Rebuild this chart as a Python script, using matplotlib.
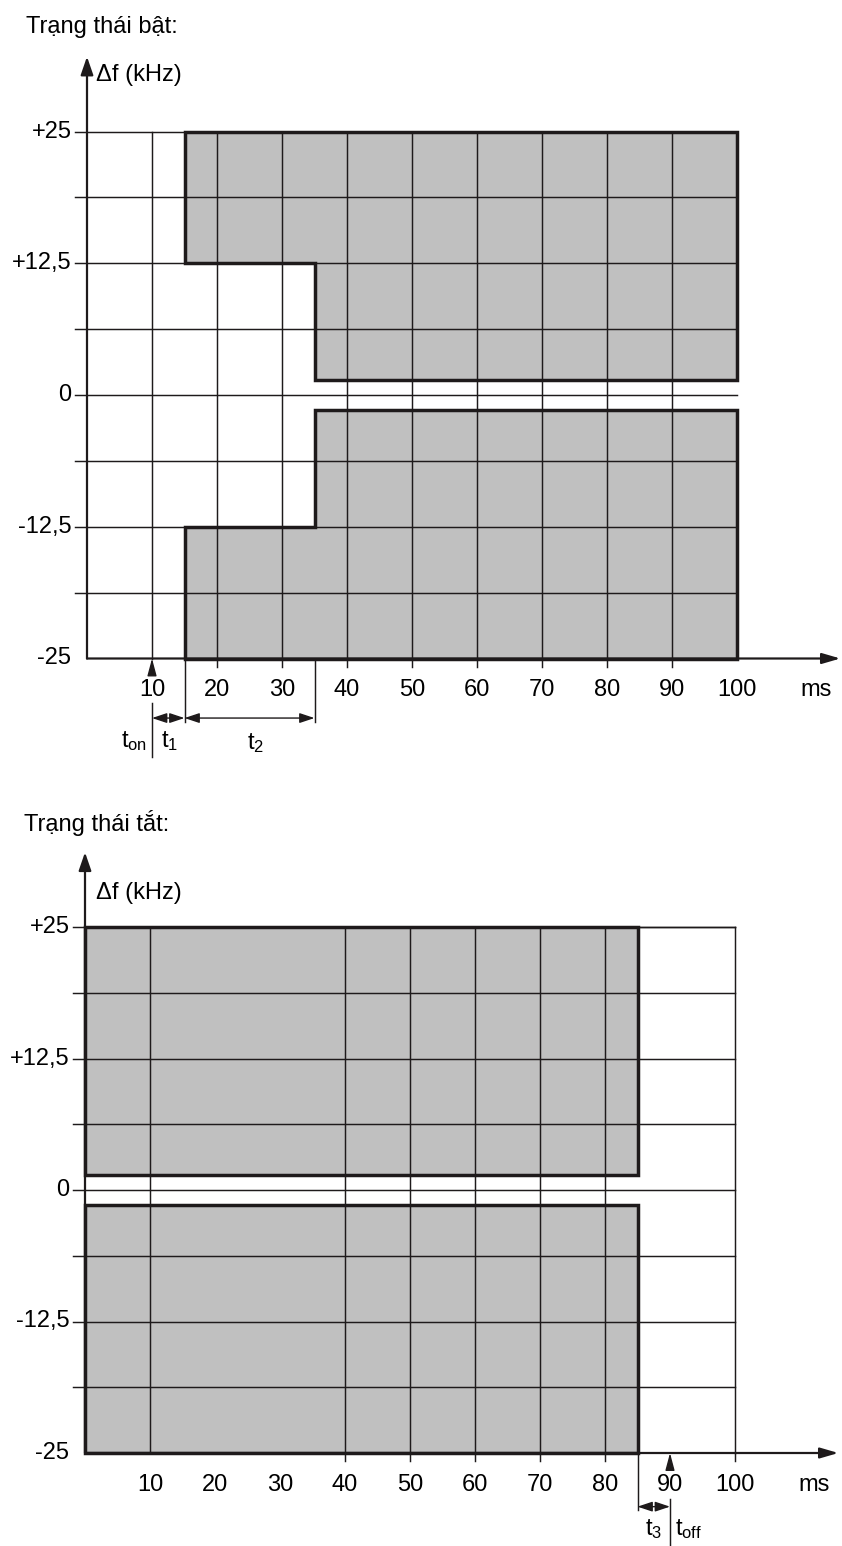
import matplotlib.pyplot as plt

plt.rcParams['font.family'] = ['Liberation Sans', 'DejaVu Sans']
plt.rcParams['mathtext.default'] = 'regular'

# truc thoi gian (ms) va tan so (kHz)
time_ticks = [10, 20, 30, 40, 50, 60, 70, 80, 90, 100]
freq_ticks = [25, 12.5, 0, -12.5, -25]
freq_labels = ['+25', '+12,5', '0', '-12,5', '-25']
grid_freq = [25, 18.75, 12.5, 6.25, 0, -6.25, -12.5, -18.75]

# mat na trang thai bat
on_upper_t = [15, 15, 35, 35, 100, 100]
on_upper_f = [25, 12.5, 12.5, 1.4, 1.4, 25]
on_lower_t = [15, 15, 35, 35, 100, 100]
on_lower_f = [-25, -12.5, -12.5, -1.4, -1.4, -25]
on_grid_t = [10, 20, 30, 40, 50, 60, 70, 80, 90]
on_tick_t = [20, 30, 40, 50, 60, 70, 80, 90]
t_on, t_1_end, t_2_end = 10, 15, 35

# mat na trang thai tat
off_upper_t = [0, 0, 85, 85]
off_upper_f = [1.4, 25, 25, 1.4]
off_lower_t = [0, 0, 85, 85]
off_lower_f = [-1.4, -25, -25, -1.4]
off_grid_t = [10, 40, 50, 60, 70, 80, 100]
off_tick_t = [40, 50, 60, 70, 80, 100]
t_3_start, t_off = 85, 90

INK = '#1e1a1b'
GREY = '#c0c0c0'
FS = 17
W, H = 842, 1546


def make_axes(fig, row0, row1, x0_px, y0_px, px_ms, px_khz):
    # truc phu de ve theo don vi ms / kHz
    ax = fig.add_axes([0, 1 - row1 / H, 1, (row1 - row0) / H])
    ax.set_xlim(-x0_px / px_ms, (W - x0_px) / px_ms)
    ax.set_ylim((y0_px - row1) / px_khz, (y0_px - row0) / px_khz)
    ax.axis('off')
    return ax


def arrow(ax, start, end, style, lw=1.0, hl=1.0, hw=0.3, ms=10):
    ax.annotate('', xy=end, xytext=start, zorder=6, annotation_clip=False,
                arrowprops=dict(arrowstyle='{},head_length={},head_width={}'.format(style, hl, hw),
                                color=INK, lw=lw, shrinkA=0, shrinkB=0, mutation_scale=ms))


def draw_panel(ax, title, upper, lower, grid_t, tick_t, xmax_grid, tick_left):
    # vung cam (xam)
    for tt, ff in (upper, lower):
        ax.fill(tt, ff, facecolor=GREY, edgecolor='none', zorder=1)
        ax.fill(tt, ff, facecolor='none', edgecolor=INK, lw=2.5, zorder=4, joinstyle='miter')

    # luoi
    for f in grid_freq:
        ax.plot([tick_left, xmax_grid], [f, f], color=INK, lw=1.05, zorder=2)
    for t in grid_t:
        ax.plot([t, t], [-25, 25], color=INK, lw=1.05, zorder=2)
    for t in tick_t:
        ax.plot([t, t], [-25.8, -25], color=INK, lw=1.05, zorder=2)

    # truc toa do
    arrow(ax, (0, -25), (0, 32.1), '-|>', lw=1.6, hl=1.1, hw=0.38)
    arrow(ax, (0, -25), (115.9, -25), '-|>', lw=1.6, hl=1.1, hw=0.32)

    for t in time_ticks:
        ax.text(t, -28.0, str(t), ha='center', va='center', fontsize=FS)
    ax.text(112.1, -28.0, 'ms', ha='center', va='center', fontsize=FS)
    for f, lab in zip(freq_ticks, freq_labels):
        ax.text(-2.4, f, lab, ha='right', va='center', fontsize=FS)
    ax.text(-9.4, 34.9, title, ha='left', va='center', fontsize=FS)


fig = plt.figure(figsize=(W / 100, H / 100), dpi=100)

# ------------------
# trang thai bat
# ------------------
ax1 = make_axes(fig, 0, 780, 87, 395, 6.5, 10.54)
draw_panel(ax1, 'Trạng thái bật:', (on_upper_t, on_upper_f), (on_lower_t, on_lower_f),
           on_grid_t, on_tick_t, 100, -1.8)
ax1.text(1.4, 30.4, 'Δf (kHz)', ha='left', va='center', fontsize=FS)
arrow(ax1, (t_on, -26.45), (t_on, -25), '-|>', lw=1.0, hl=1.05, hw=0.28)
ax1.plot([t_on, t_on], [-29.2, -34.3], color=INK, lw=1.05)
for t in (t_1_end, t_2_end):
    ax1.plot([t, t], [-25, -31.0], color=INK, lw=1.05)
arrow(ax1, (t_on, -30.65), (t_1_end, -30.65), '<|-|>', hl=0.9, hw=0.3)
arrow(ax1, (t_1_end, -30.65), (t_2_end, -30.65), '<|-|>', hl=0.9, hw=0.3)
ax1.text(t_on - 0.8, -32.8, '$t_{on}$', ha='right', va='center', fontsize=FS)
ax1.text(12.7, -32.8, '$t_1$', ha='center', va='center', fontsize=FS)
ax1.text(26.0, -33.0, '$t_2$', ha='center', va='center', fontsize=FS)

# ------------------
# trang thai tat
# ------------------
ax2 = make_axes(fig, 780, H, 85, 1190, 6.5, 10.52)
draw_panel(ax2, 'Trạng thái tắt:', (off_upper_t, off_upper_f), (off_lower_t, off_lower_f),
           off_grid_t, off_tick_t, 100, -1.8)
ax2.plot([0, 100], [25, 25], color=INK, lw=1.05, zorder=2)
ax2.text(1.7, 28.2, 'Δf (kHz)', ha='left', va='center', fontsize=FS)
arrow(ax2, (t_off, -26.45), (t_off, -25), '-|>', lw=1.0, hl=1.05, hw=0.28)
ax2.plot([t_3_start, t_3_start], [-25, -30.4], color=INK, lw=1.05)
ax2.plot([t_off, t_off], [-29.4, -33.8], color=INK, lw=1.05)
arrow(ax2, (t_3_start, -30.1), (t_off, -30.1), '<|-|>', hl=0.9, hw=0.3)
ax2.text(87.4, -32.2, '$t_3$', ha='center', va='center', fontsize=FS)
ax2.text(t_off + 0.7, -32.2, '$t_{off}$', ha='left', va='center', fontsize=FS)

plt.savefig('out.png', dpi=100)
